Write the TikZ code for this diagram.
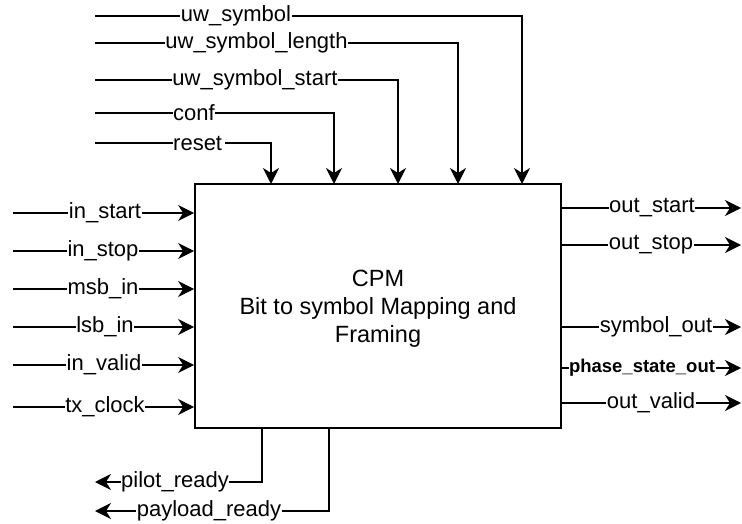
\documentclass[tikz,border=0pt]{standalone}
\usepackage{fontspec}
\setmainfont{Liberation Sans}
\usetikzlibrary{arrows.meta,calc}
\begin{document}
\begin{tikzpicture}[x=1pt,y=-1pt,
  wire/.style={line width=1.8pt, black},
  arr/.style={wire, -{Stealth[length=16pt,width=16pt,inset=5pt]}},
  lbl/.style={fill=white, inner xsep=0.5pt, inner ysep=1pt, font=\fontsize{22}{24}\selectfont},
  blbl/.style={lbl, font=\fontsize{18.5}{20}\selectfont\bfseries},
  block/.style={draw, line width=1.8pt, minimum width=366pt, minimum height=244pt},
  blocktext/.style={align=center, font=\fontsize{23.5}{28}\selectfont}
]
\useasboundingbox (0,0) rectangle (742,524);
\node[block] (cpm) at (378,306) {};
\node[blocktext] (cpmtext) at (378,309) {CPM\\Bit to symbol Mapping and\\Framing};

% top inputs
\foreach \n/\y/\x in {t1/16/522, t2/43/458, t3/80/398, t4/113/334, t5/143/271}{
  \coordinate (\n s) at (95,\y);
  \coordinate (\n e) at (\x,184);
  \draw[arr] (\n s) -| (\n e);
}
\node[lbl] (lt1) at (236,16) {uw\_symbol};
\node[lbl] (lt2) at (256.5,43) {uw\_symbol\_length};
\node[lbl] (lt3) at (255,80) {uw\_symbol\_start};
\node[lbl, anchor=west, inner xsep=0pt, text width=52pt] (lt5) at (173,143) {\hspace*{0pt}reset};
\node[lbl] (lt4) at (194,113) {conf};

% left inputs
\foreach \n/\y/\t/\c in {i1/213/in\_start/105, i2/251/in\_stop/103, i3/289/msb\_in/103, i4/327/lsb\_in/105, i5/365/in\_valid/104, i6/407/tx\_clock/105}{
  \coordinate (\n s) at (13,\y);
  \draw[arr] (\n s) -- (\n s -| cpm.west);
  \node[lbl] (l\n) at (\c,\y) {\t};
}

% right outputs
\foreach \n/\y/\t/\c in {o1/208/out\_start/652, o2/245/out\_stop/651, o3/327/symbol\_out/656, o5/403/out\_valid/651}{
  \coordinate (\n e) at (741,\y);
  \draw[arr] (\n e -| cpm.east) -- (\n e);
  \node[lbl] (l\n) at (\c,\y) {\t};
}
\coordinate (o4e) at (741,368);
\draw[arr] (o4e -| cpm.east) -- (o4e);
\node[blbl] (lo4) at (642,368) {phase\_state\_out};

% bottom outputs
\coordinate (b1s) at (262,428);
\coordinate (b1e) at (95,482);
\draw[arr] (b1s) |- (b1e);
\node[lbl] (lb1) at (175,482) {pilot\_ready};
\coordinate (b2s) at (329,428);
\coordinate (b2e) at (95,511);
\draw[arr] (b2s) |- (b2e);
\node[lbl] (lb2) at (209,511) {payload\_ready};
\end{tikzpicture}
\end{document}
